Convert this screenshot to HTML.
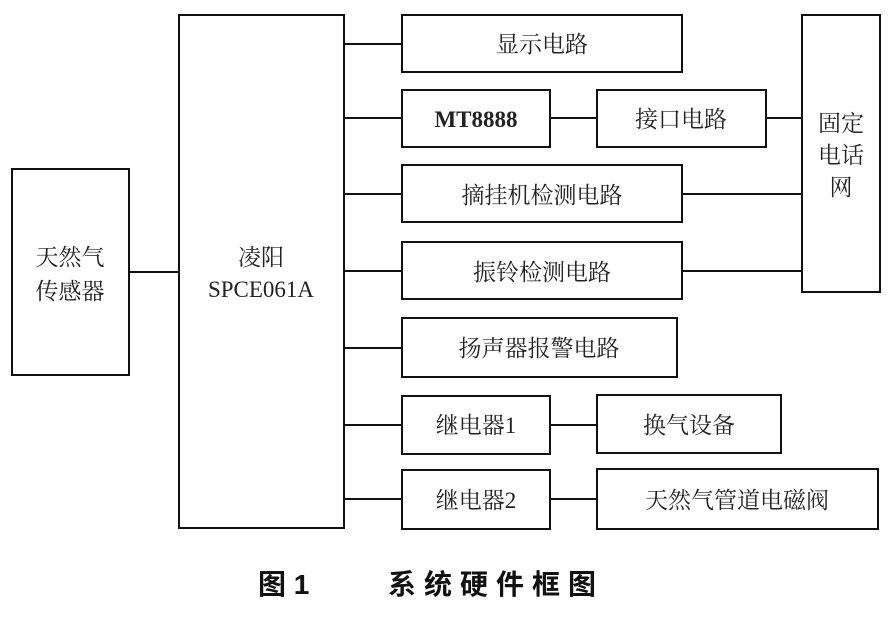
<!DOCTYPE html>
<html><head><meta charset="utf-8"><style>
body{margin:0;background:#fff;}
svg text{font-family:"Liberation Serif","Noto Serif CJK SC",serif;fill:#222;}
</style></head><body>
<svg width="894" height="618" viewBox="0 0 894 618" xmlns="http://www.w3.org/2000/svg">
<g fill="none" stroke="#111" stroke-width="2">
<rect x="12" y="169" width="117" height="206"/>
<rect x="179" y="15" width="165" height="513"/>
<rect x="402" y="15" width="280" height="57"/>
<rect x="402" y="90" width="148" height="57"/>
<rect x="597" y="90" width="169" height="57"/>
<rect x="802" y="15" width="78" height="277"/>
<rect x="402" y="165" width="280" height="57"/>
<rect x="402" y="242" width="280" height="57"/>
<rect x="402" y="318" width="275" height="59"/>
<rect x="402" y="396" width="148" height="58"/>
<rect x="597" y="395" width="184" height="58"/>
<rect x="402" y="470" width="148" height="59"/>
<rect x="597" y="469" width="281" height="60"/>
<path d="M129 272H179 M344 44H402 M344 118H402 M344 194H402 M344 271H402 M344 348H402 M344 425H402 M344 499H402 M550 118H597 M766 118H802 M682 194H802 M682 271H802 M550 425H597 M550 499H597"/>
</g>
<g font-size="23" text-anchor="middle">
<text x="70" y="265">天然气</text>
<text x="70" y="299">传感器</text>
<text x="261" y="265">凌阳</text>
<text x="261" y="297">SPCE061A</text>
<text x="542" y="52">显示电路</text>
<text x="476" y="127" font-weight="bold">MT8888</text>
<text x="681" y="127">接口电路</text>
<text x="841" y="131">固定</text>
<text x="841" y="163">电话</text>
<text x="841" y="195">网</text>
<text x="542" y="203">摘挂机检测电路</text>
<text x="542" y="280">振铃检测电路</text>
<text x="539" y="356">扬声器报警电路</text>
<text x="476" y="433">继电器1</text>
<text x="689" y="433">换气设备</text>
<text x="476" y="508">继电器2</text>
<text x="737" y="508">天然气管道电磁阀</text>
</g>
<text x="258" y="594" font-size="28" font-weight="bold" style="font-family:'Liberation Sans','Noto Sans CJK SC',sans-serif;fill:#111">图 1</text>
<text x="388" y="594" font-size="28" font-weight="bold" letter-spacing="8" style="font-family:'Noto Sans CJK SC',sans-serif;fill:#111">系统硬件框图</text>
</svg>
</body></html>
